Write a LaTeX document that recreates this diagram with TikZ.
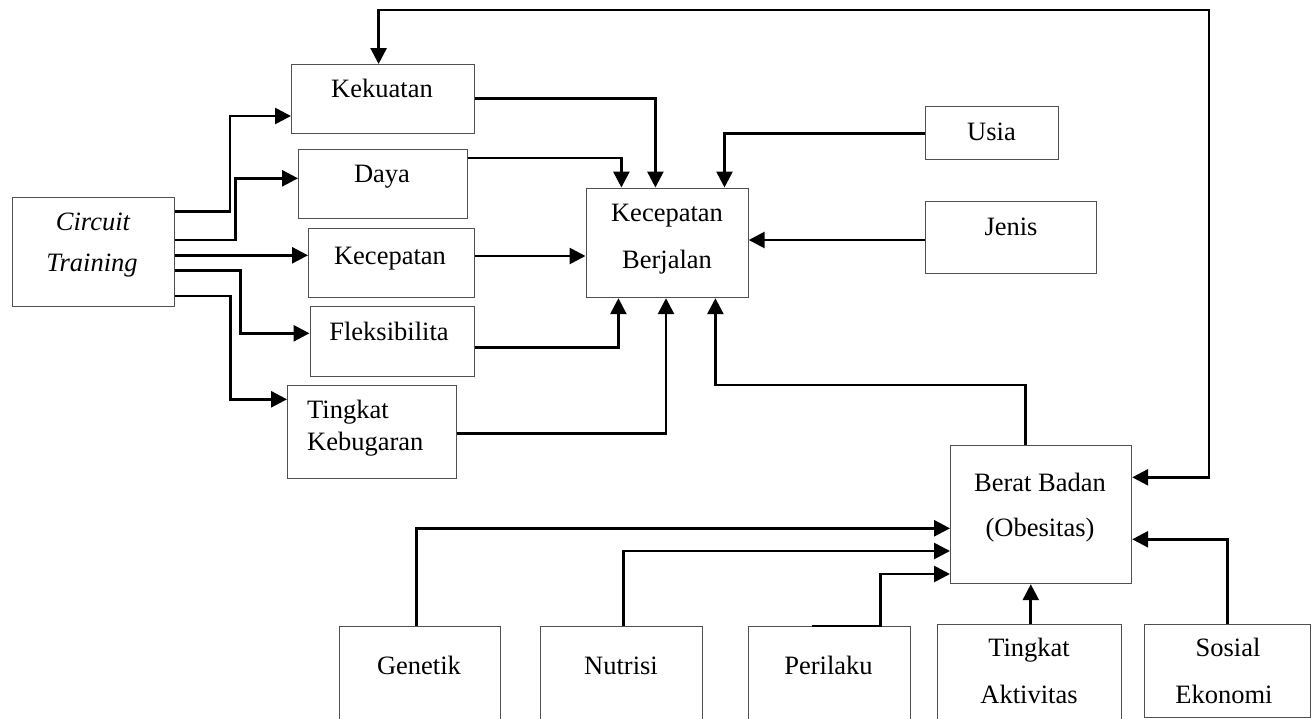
\documentclass[tikz,border=0pt]{standalone}
\usepackage{fontspec}
\setmainfont{Liberation Serif}
\usetikzlibrary{arrows.meta}
\definecolor{boxgray}{HTML}{505050}
\begin{document}
\begin{tikzpicture}[x=1pt,y=-1pt,
  box/.style={draw=boxgray,line width=1.2pt,anchor=north west,inner sep=0pt,fill=none},
  txt/.style={anchor=base,inner sep=0pt,font=\fontsize{26.5pt}{30pt}\selectfont},
  conn/.style={draw=black,line width=2.7pt,line join=miter,-{Triangle[length=16pt,width=16pt]}},
  conn2/.style={draw=black,line width=2.7pt,line join=miter,{Triangle[length=16pt,width=16pt]}-{Triangle[length=16pt,width=16pt]}},
  plain/.style={draw=black,line width=2.7pt,line join=miter}]
\useasboundingbox (0,0) rectangle (1312,718);
% boxes
\node[box,minimum width=162pt,minimum height=109pt] (ct) at (12,197) {};
\node[box,minimum width=183pt,minimum height=69pt] (kek) at (291,64) {};
\node[box,minimum width=168.5pt,minimum height=69pt] (daya) at (298,149) {};
\node[box,minimum width=166pt,minimum height=69pt] (kec) at (308,228) {};
\node[box,minimum width=164.5pt,minimum height=69.5pt] (fleks) at (309.5,306) {};
\node[box,minimum width=169pt,minimum height=92.5pt] (tk) at (287,385) {};
\node[box,minimum width=162pt,minimum height=109.5pt] (kb) at (585.5,187.5) {};
\node[box,minimum width=133pt,minimum height=52.5pt] (usia) at (924.5,106) {};
\node[box,minimum width=171pt,minimum height=71.5pt] (jenis) at (924.5,201) {};
\node[box,minimum width=181pt,minimum height=138pt] (berat) at (950,445) {};
\node[box,minimum width=161.5pt,minimum height=100pt] (gen) at (338.5,626) {};
\node[box,minimum width=162pt,minimum height=100pt] (nut) at (540,626) {};
\node[box,minimum width=161.5pt,minimum height=100pt] (per) at (748,626) {};
\node[box,minimum width=184pt,minimum height=100pt] (ta) at (936.5,623.5) {};
\node[box,minimum width=165.5pt,minimum height=92.5pt] (se) at (1144,624) {};
% texts
\node[txt] (ctA) at (93,230) {\itshape Circuit};
\node[txt] (ctB) at (92,271) {\itshape Training};
\node[txt] (kekT) at (382,97.5) {Kekuatan};
\node[txt] (dayaT) at (382,182.5) {Daya};
\node[txt] (kecT) at (390,264) {Kecepatan};
\node[txt] (fleksT) at (389,340) {Fleksibilita};
\node[txt,anchor=base west] (tkA) at (307,418) {Tingkat};
\node[txt,anchor=base west] (tkB) at (307,450) {Kebugaran};
\node[txt] (kbA) at (667,221.5) {Kecepatan};
\node[txt] (kbB) at (667,268) {Berjalan};
\node[txt] (usiaT) at (991.5,140) {Usia};
\node[txt] (jenisT) at (1011,235) {Jenis};
\node[txt] (beratA) at (1040,491.5) {Berat Badan};
\node[txt] (beratB) at (1040,536) {(Obesitas)};
\node[txt] (genT) at (419,674) {Genetik};
\node[txt] (nutT) at (621,674) {Nutrisi};
\node[txt] (perT) at (828.5,674) {Perilaku};
\node[txt] (taA) at (1029,656.5) {Tingkat};
\node[txt] (taB) at (1029,703) {Aktivitas};
\node[txt] (seA) at (1228,656.5) {Sosial};
\node[txt] (seB) at (1224,703) {Ekonomi};
% Circuit Training connectors
\draw[conn] (ct.east |- 0,211.7) -- (230,211.7) -- (230,116) -- (kek.west |- 0,116);
\draw[conn] (ct.east |- 0,240) -- (235.7,240) -- (235.7,178.3) -- (daya.west |- 0,178.3);
\draw[conn] (ct.east |- 0,255.3) -- (kec.west |- 0,255.3);
\draw[conn] (ct.east |- 0,270.7) -- (240.2,270.7) -- (240.2,333.3) -- (fleks.west |- 0,333.3);
\draw[conn] (ct.east |- 0,296) -- (230.8,296) -- (230.8,399.3) -- (tk.west |- 0,399.3);
% into Kecepatan Berjalan
\draw[conn] (kek.east |- 0,98.7) -| (655.4,0 |- kb.north);
\draw[conn] (daya.east |- 0,158) -| (621.4,0 |- kb.north);
\draw[conn] (kec.east |- 0,256) -- (kb.west |- 0,256);
\draw[conn] (fleks.east |- 0,347.3) -| (618.4,0 |- kb.south);
\draw[conn] (tk.east |- 0,433.3) -| (666,0 |- kb.south);
\draw[conn] (berat.north -| 1025.7,0) -- (1025.7,385) -| (715.4,0 |- kb.south);
\draw[conn] (usia.west |- 0,133.3) -| (724.5,0 |- kb.north);
\draw[conn] (jenis.west |- 0,240) -- (kb.east |- 0,240);
% feedback loop
\draw[conn2] (kek.north -| 378.6,0) -- (378.6,10) -- (1209,10) -- (1209,477.3) -- (berat.east |- 0,477.3);
% into Berat Badan
\draw[conn] (gen.north -| 416.7,0) -- (416.7,528.3) -- (berat.west |- 0,528.3);
\draw[conn] (nut.north -| 623.3,0) -- (623.3,551) -- (berat.west |- 0,551);
\coordinate (perS) at (812.4,626);
\draw[conn] (perS) -- (880.5,626) -- (880.5,574) -- (berat.west |- 0,574);
\draw[conn] (ta.north -| 1030.8,0) -- (berat.south -| 1030.8,0);
\draw[conn] (se.north -| 1227.5,0) -- (1227.5,539.3) -- (berat.east |- 0,539.3);
\end{tikzpicture}
\end{document}
